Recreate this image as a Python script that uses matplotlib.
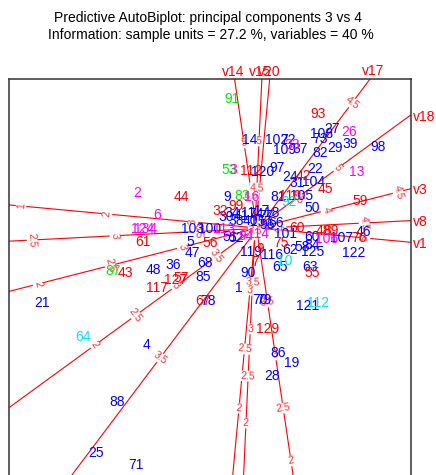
import numpy as np
import matplotlib
matplotlib.use('Agg')
import matplotlib.pyplot as plt

plt.rcParams['font.family'] = ['Liberation Sans', 'DejaVu Sans']

# sample units (screen units, y grows downwards)
blue_labels = ['27', '108', '73', '14', '102', '72', '109', '37', '82', '29', '39', '98', '120', '97',
               '24', '22', '31', '104', '9', '81', '105', '50', '30', '34', '41', '11', '74', '17',
               '77', '18', '38', '40', '15', '96', '66', '103', '100', '5', '47', '51', '52', '101',
               '60', '107', '46', '122', '119', '116', '62', '58', '84', '125', '65', '63', '90', '1',
               '70', '79', '121', '86', '19', '28', '48', '36', '68', '85', '78', '21', '4', '88',
               '25', '71']
blue_x = [332, 322, 320, 250, 277, 288, 284, 300, 320, 335, 350, 378, 263, 277, 290, 315, 297, 314,
          227, 278, 302, 312, 226, 232, 241, 248, 256, 262, 266, 272, 236, 250, 258, 267, 276, 193,
          210, 190, 192, 230, 236, 285, 312, 342, 363, 354, 251, 272, 290, 302, 312, 313, 280, 310,
          248, 239, 260, 264, 308, 278, 292, 272, 153, 173, 205, 203, 208, 42, 146, 117, 96, 136]
blue_y = [129, 134, 139, 140, 140, 140, 150, 149, 153, 148, 144, 147, 172, 168, 177, 169, 183, 182,
          197, 197, 196, 208, 217, 213, 216, 213, 214, 211, 216, 213, 221, 221, 222, 225, 223, 229,
          229, 242, 253, 237, 238, 234, 237, 238, 232, 253, 252, 255, 250, 247, 245, 252, 267, 267,
          273, 288, 300, 300, 306, 353, 363, 376, 270, 265, 263, 277, 301, 303, 345, 402, 453, 465]

red_labels = ['93', '112', '42', '45', '44', '110', '59', '32', '99', '60', '75', '48', '89', '76',
              '9', '7', '55', '129', '61', '56', '43', '117', '127', '57', '67']
red_x = [318, 251, 303, 325, 181, 290, 360, 220, 236, 297, 281, 323, 331, 359, 260, 255, 312, 268,
         143, 210, 125, 157, 176, 181, 203]
red_y = [114, 171, 176, 189, 197, 196, 201, 211, 206, 228, 243, 231, 231, 238, 249, 262, 273, 329,
         242, 243, 273, 288, 280, 278, 301]

magenta_labels = ['26', '33', '13', '3', '16', '2', '6', '113', '124', '134', '94', '114', '106']
magenta_x = [349, 292, 357, 233, 252, 137, 157, 224, 143, 146, 246, 258, 327]
magenta_y = [132, 145, 172, 170, 197, 193, 215, 229, 229, 229, 236, 234, 239]

green_labels = ['91', '53', '83', '87']
green_x = [232, 229, 242, 113]
green_y = [99, 170, 196, 271]

cyan_labels = ['92', '10', '112', '64']
cyan_x = [289, 285, 318, 83]
cyan_y = [202, 261, 303, 337]

# predictive axes: two calibration points (value, x, y) and the tick values shown
var_names = ['v1', 'v8', 'v3', 'v18', 'v17', 'v14', 'v15', 'v20']
var_cal_a = [(2, 107, 214), (2.5, 32, 240), (2, 38, 284), (2, 95, 345),
             (3.5, 160, 358), (2, 291, 461), (2, 246, 423), (2, 239, 408)]
var_cal_b = [(5, 365, 238), (4.5, 364, 223), (4.5, 398, 192), (5, 338, 168),
             (4.5, 352, 103), (5, 244, 143), (5, 259, 141), (3, 250, 290)]
var_ticks = [[1, 2, 3, 4, 5],
             [2.5, 3, 3.5, 4, 4.5],
             [2, 2.5, 3, 3.5, 4, 4.5],
             [2, 2.5, 3, 3.5, 4, 4.5, 5],
             [3.5, 4, 4.5],
             [2, 2.5, 3, 3.5, 4, 4.5, 5],
             [2, 2.5, 3, 3.5, 4, 4.5, 5],
             [2, 2.5, 3, 3.5]]
var_label_x = [413, 413, 413, 413, 373, 233, 260, 269]
var_label_y = [244, 222, 190, 117, 71, 72, 72, 72]
var_label_ha = ['left', 'left', 'left', 'left', 'center', 'center', 'center', 'center']


fig = plt.figure(figsize=(4.36, 4.75), dpi=100)
ax = fig.add_axes([9 / 436, (475 - 520) / 475, 402 / 436, (520 - 79) / 475])
ax.set_xlim(9, 411)
ax.set_ylim(520, 79)
ax.set_xticks([])
ax.set_yticks([])
for side in ['left', 'right', 'top', 'bottom']:
    ax.spines[side].set_color('#333333')
    ax.spines[side].set_linewidth(1.1)

for i, name in enumerate(var_names):
    va_, xa, ya = var_cal_a[i]
    vb, xb, yb = var_cal_b[i]
    pa = np.array([xa, ya], dtype=float)
    pb = np.array([xb, yb], dtype=float)
    d = (pb - pa) / np.linalg.norm(pb - pa)
    p0 = pa - 1500 * d
    p1 = pa + 1500 * d
    ax.plot([p0[0], p1[0]], [p0[1], p1[1]], color='red', lw=0.8, zorder=1)

    # tick labels sit perpendicular to the axis
    ang = np.degrees(np.arctan2(-(yb - ya), xb - xa))
    rot = ang - 90
    while rot <= -90:
        rot += 180
    while rot > 90:
        rot -= 180
    for t in var_ticks[i]:
        p = pa + (t - va_) / (vb - va_) * (pb - pa)
        ax.text(p[0], p[1], f'{t:g}', color='#ff3030', fontsize=7.5, rotation=rot,
                rotation_mode='anchor', ha='center', va='center', zorder=2, clip_on=False,
                bbox=dict(facecolor='white', edgecolor='none', pad=0.2))

    ax.text(var_label_x[i], var_label_y[i], name, color='red', fontsize=10,
            ha=var_label_ha[i], va='center', clip_on=False, zorder=4)


def draw_units(labels, xs, ys, color):
    for lab, x, y in zip(labels, xs, ys):
        ax.text(x, y, lab, color=color, fontsize=10, ha='center', va='center', zorder=3)


draw_units(green_labels, green_x, green_y, '#00ee00')
draw_units(blue_labels, blue_x, blue_y, '#0000ff')
draw_units(red_labels, red_x, red_y, '#ff0000')
draw_units(magenta_labels, magenta_x, magenta_y, '#ff00ff')
draw_units(cyan_labels, cyan_x, cyan_y, '#00e5e5')

fig.text(208 / 436, 1 - 18 / 475, 'Predictive AutoBiplot: principal components 3 vs 4',
         ha='center', va='center', fontsize=10)
fig.text(211 / 436, 1 - 35 / 475, 'Information: sample units = 27.2 %, variables = 40 %',
         ha='center', va='center', fontsize=10)

fig.savefig('out.png', dpi=100)
